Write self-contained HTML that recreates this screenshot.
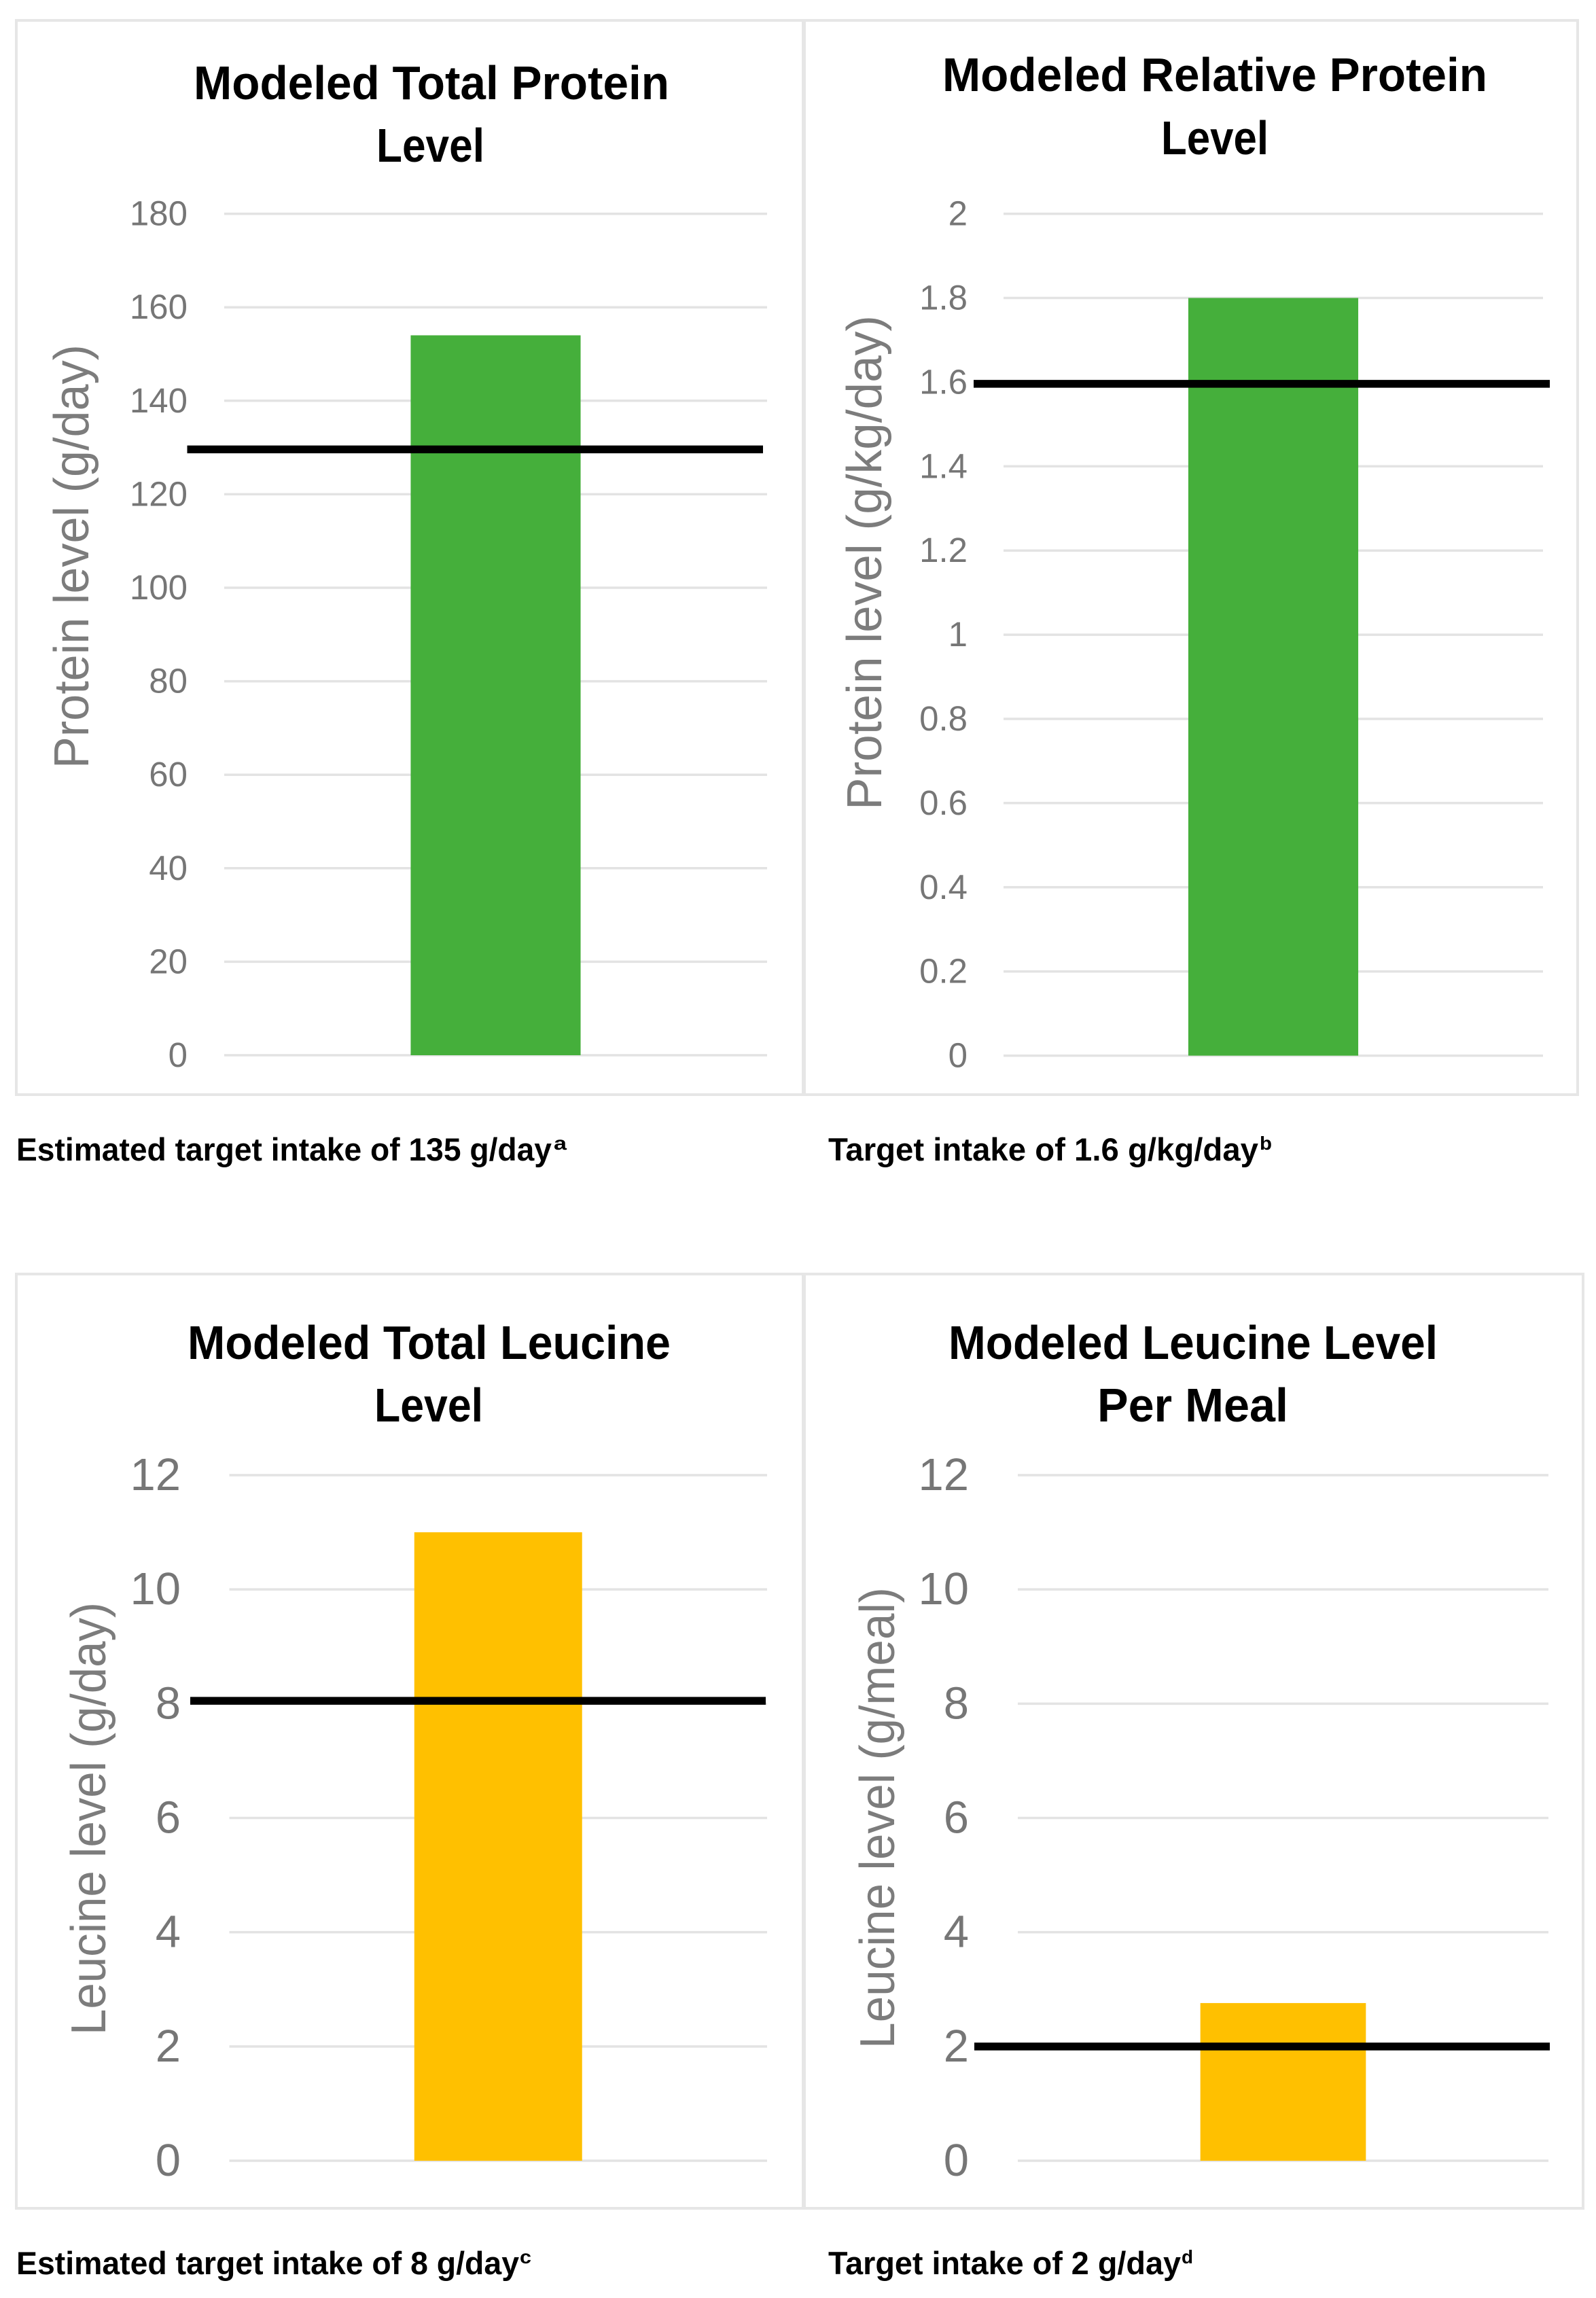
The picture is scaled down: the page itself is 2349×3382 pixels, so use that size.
<!DOCTYPE html>
<html lang="en">
<head>
<meta charset="utf-8">
<title>Modeled Protein and Leucine Levels</title>
<style>
html,body{margin:0;padding:0;background:#fff;}
svg{display:block;}
text{font-family:"Liberation Sans",sans-serif;}
.title{font-weight:700;font-size:70px;fill:#000;}
.caption{font-weight:700;font-size:47px;fill:#000;}
.sup{font-weight:700;font-size:28px;fill:#000;}
.axis-title{font-size:72px;fill:#7c7c7c;}
.panel{fill:#fff;stroke:#e6e6e6;stroke-width:4;}
</style>
</head>
<body>
<svg id="figure" xmlns="http://www.w3.org/2000/svg" width="2349" height="3382" viewBox="0 0 2349 3382">
  <rect x="0" y="0" width="2349" height="3382" fill="#ffffff"/>

  <rect class="panel" x="24" y="30" width="1158" height="1581"/>
  <rect class="panel" x="1184" y="30" width="1138" height="1581"/>
  <rect class="panel" x="24" y="1875" width="1158" height="1375"/>
  <rect class="panel" x="1184" y="1875" width="1146" height="1375"/>

  <g id="chart-total-protein"></g>
  <g id="chart-relative-protein"></g>
  <g id="chart-total-leucine"></g>
  <g id="chart-leucine-per-meal"></g>

  <text class="title" x="285" y="146" textLength="700" lengthAdjust="spacingAndGlyphs">Modeled Total Protein</text>
  <text class="title" x="554" y="238" textLength="159" lengthAdjust="spacingAndGlyphs">Level</text>
  <text class="title" x="1387" y="134" textLength="802" lengthAdjust="spacingAndGlyphs">Modeled Relative Protein</text>
  <text class="title" x="1709" y="227" textLength="158" lengthAdjust="spacingAndGlyphs">Level</text>
  <text class="title" x="276" y="2000" textLength="711" lengthAdjust="spacingAndGlyphs">Modeled Total Leucine</text>
  <text class="title" x="551" y="2092" textLength="160" lengthAdjust="spacingAndGlyphs">Level</text>
  <text class="title" x="1396" y="2000" textLength="720" lengthAdjust="spacingAndGlyphs">Modeled Leucine Level</text>
  <text class="title" x="1615" y="2092" textLength="281" lengthAdjust="spacingAndGlyphs">Per Meal</text>

  <text class="axis-title" transform="translate(130,1131) rotate(-90)" textLength="624" lengthAdjust="spacingAndGlyphs">Protein level (g/day)</text>
  <text class="axis-title" transform="translate(1297,1192) rotate(-90)" textLength="728" lengthAdjust="spacingAndGlyphs">Protein level (g/kg/day)</text>
  <text class="axis-title" transform="translate(155,2995) rotate(-90)" textLength="637" lengthAdjust="spacingAndGlyphs">Leucine level (g/day)</text>
  <text class="axis-title" transform="translate(1316,3015) rotate(-90)" textLength="679" lengthAdjust="spacingAndGlyphs">Leucine level (g/meal)</text>

  <text class="caption" x="24" y="1708" textLength="788" lengthAdjust="spacingAndGlyphs">Estimated target intake of 135 g/day</text>
  <text class="sup" x="815" y="1692" textLength="19" lengthAdjust="spacingAndGlyphs">a</text>
  <text class="caption" x="1219" y="1708" textLength="633" lengthAdjust="spacingAndGlyphs">Target intake of 1.6 g/kg/day</text>
  <text class="sup" x="1854" y="1692" textLength="18" lengthAdjust="spacingAndGlyphs">b</text>
  <text class="caption" x="24" y="3347" textLength="740" lengthAdjust="spacingAndGlyphs">Estimated target intake of 8 g/day</text>
  <text class="sup" x="765" y="3331" textLength="17" lengthAdjust="spacingAndGlyphs">c</text>
  <text class="caption" x="1219" y="3347" textLength="519" lengthAdjust="spacingAndGlyphs">Target intake of 2 g/day</text>
  <text class="sup" x="1739" y="3331" textLength="17" lengthAdjust="spacingAndGlyphs">d</text>
</svg>

<script>
// Chart data
const totalProteinCategories = ["Modeled total protein"];
const totalProteinValues = [154];
const totalProteinTargets = [129.6];
const totalProteinTicks = ["0", "20", "40", "60", "80", "100", "120", "140", "160", "180"];

const relativeProteinCategories = ["Modeled relative protein"];
const relativeProteinValues = [1.8];
const relativeProteinTargets = [1.596];
const relativeProteinTicks = ["0", "0.2", "0.4", "0.6", "0.8", "1", "1.2", "1.4", "1.6", "1.8", "2"];

const totalLeucineCategories = ["Modeled total leucine"];
const totalLeucineValues = [11];
const totalLeucineTargets = [8.05];
const totalLeucineTicks = ["0", "2", "4", "6", "8", "10", "12"];

const leucinePerMealCategories = ["Modeled leucine per meal"];
const leucinePerMealValues = [2.76];
const leucinePerMealTargets = [2];
const leucinePerMealTicks = ["0", "2", "4", "6", "8", "10", "12"];

const SVG_NS = "http://www.w3.org/2000/svg";

function svgEl(tag, attrs) {
  const el = document.createElementNS(SVG_NS, tag);
  for (const key in attrs) {
    el.setAttribute(key, attrs[key]);
  }
  return el;
}

function drawChart(groupId, categories, values, targets, ticks, layout) {
  const group = document.getElementById(groupId);
  const domainMax = Math.max.apply(null, ticks.map(Number));
  const yScale = function (v) {
    return layout.yZero - (v / domainMax) * (layout.yZero - layout.yTop);
  };
  const bandWidth = (layout.xRight - layout.xLeft) / categories.length;
  const xBandCenter = function (i) {
    return layout.xLeft + bandWidth * (i + 0.5);
  };

  ticks.forEach(function (tick) {
    const y = yScale(Number(tick));
    const grid = svgEl("line", {
      x1: layout.xLeft, x2: layout.xRight, y1: y, y2: y,
      stroke: "#e3e3e3", "stroke-width": 3.5
    });
    
    
    group.appendChild(grid);

    const label = svgEl("text", {
      x: layout.tickRight, y: y + layout.tickBaseline,
      "text-anchor": "end", "font-size": layout.tickFont, fill: "#767676"
    });
    
    
    label.textContent = tick;
    group.appendChild(label);
  });

  categories.forEach(function (category, i) {
    const barWidth = bandWidth * layout.barFraction;
    const bar = svgEl("rect", {
      x: xBandCenter(i) - barWidth / 2,
      y: yScale(values[i]),
      width: barWidth,
      height: yScale(0) - yScale(values[i]),
      fill: layout.barColor
    });
    
    
    group.appendChild(bar);
  });

  targets.forEach(function (target) {
    const y = yScale(target);
    const line = svgEl("line", {
      x1: layout.lineLeft, x2: layout.lineRight, y1: y, y2: y,
      stroke: "#000000", "stroke-width": 11.5
    });
    
    
    group.appendChild(line);
  });
}

drawChart("chart-total-protein", totalProteinCategories, totalProteinValues, totalProteinTargets, totalProteinTicks,
  { xLeft: 330, xRight: 1129, yTop: 314.6, yZero: 1553, tickRight: 276, tickFont: 51, tickBaseline: 17, barFraction: 0.313, barColor: "#45af3b", lineLeft: 275.5, lineRight: 1123 });

drawChart("chart-relative-protein", relativeProteinCategories, relativeProteinValues, relativeProteinTargets, relativeProteinTicks,
  { xLeft: 1477, xRight: 2271, yTop: 314.6, yZero: 1553.6, tickRight: 1424, tickFont: 51, tickBaseline: 17, barFraction: 0.315, barColor: "#45af3b", lineLeft: 1433, lineRight: 2281 });

drawChart("chart-total-leucine", totalLeucineCategories, totalLeucineValues, totalLeucineTargets, totalLeucineTicks,
  { xLeft: 337.5, xRight: 1129, yTop: 2171, yZero: 3180, tickRight: 266, tickFont: 67, tickBaseline: 22, barFraction: 0.312, barColor: "#ffc000", lineLeft: 280, lineRight: 1127 });

drawChart("chart-leucine-per-meal", leucinePerMealCategories, leucinePerMealValues, leucinePerMealTargets, leucinePerMealTicks,
  { xLeft: 1498, xRight: 2279, yTop: 2171, yZero: 3180, tickRight: 1426, tickFont: 67, tickBaseline: 22, barFraction: 0.312, barColor: "#ffc000", lineLeft: 1434, lineRight: 2281 });
</script>
</body>
</html>
